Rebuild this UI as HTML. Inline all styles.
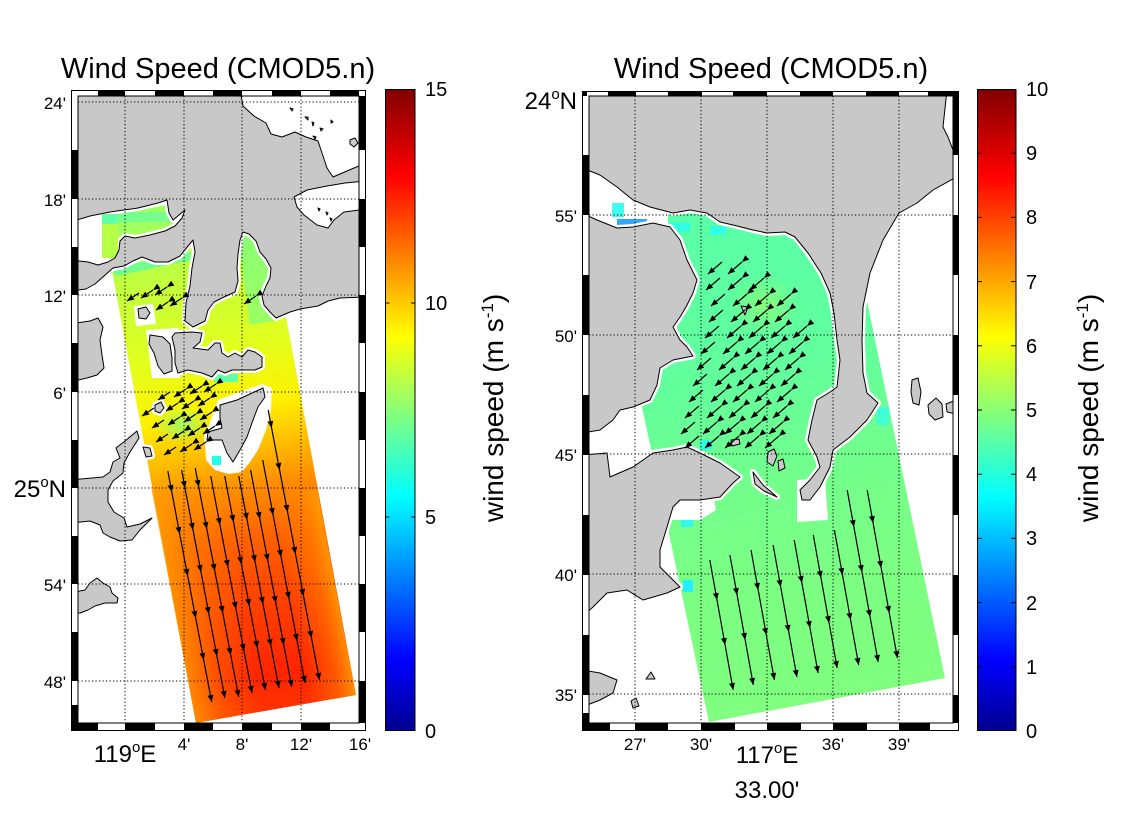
<!DOCTYPE html>
<html><head><meta charset="utf-8"><style>
html,body{margin:0;padding:0;background:#fff;}
svg{display:block;font-family:"Liberation Sans",Arial,sans-serif;}
</style></head><body>
<svg width="1134" height="817" viewBox="0 0 1134 817" xmlns="http://www.w3.org/2000/svg">
<defs>
<clipPath id="cL"><rect x="78" y="96" width="281" height="627"/></clipPath>
<clipPath id="cR"><rect x="589" y="96" width="364" height="627"/></clipPath>
<linearGradient id="jet" x1="0" y1="1" x2="0" y2="0">
<stop offset="0" stop-color="#00008f"/><stop offset="0.11" stop-color="#0000ff"/><stop offset="0.365" stop-color="#00ffff"/><stop offset="0.615" stop-color="#ffff00"/><stop offset="0.865" stop-color="#ff0000"/><stop offset="1" stop-color="#800000"/>
</linearGradient>
<linearGradient id="gL" gradientUnits="userSpaceOnUse" x1="140" y1="217" x2="236" y2="723">
<stop offset="0" stop-color="#9cff62"/><stop offset="0.12" stop-color="#bfff40"/><stop offset="0.28" stop-color="#e2ff1d"/><stop offset="0.4" stop-color="#fff000"/><stop offset="0.47" stop-color="#ffc400"/><stop offset="0.55" stop-color="#ff9000"/><stop offset="0.66" stop-color="#ff6000"/><stop offset="0.8" stop-color="#ff3c00"/><stop offset="0.92" stop-color="#ff2400"/><stop offset="1" stop-color="#ff3400"/>
</linearGradient>
<linearGradient id="gE" gradientUnits="userSpaceOnUse" x1="173" y1="631" x2="338" y2="600">
<stop offset="0" stop-color="#ffa000" stop-opacity="0.9"/><stop offset="0.22" stop-color="#ff9000" stop-opacity="0.35"/><stop offset="0.45" stop-color="#ff9000" stop-opacity="0"/><stop offset="0.72" stop-color="#ff9000" stop-opacity="0"/><stop offset="0.9" stop-color="#ff9000" stop-opacity="0.45"/><stop offset="1" stop-color="#ffa000" stop-opacity="0.85"/>
</linearGradient>
<radialGradient id="gB"><stop offset="0" stop-color="#90ff70" stop-opacity="0.85"/><stop offset="1" stop-color="#90ff70" stop-opacity="0"/></radialGradient>
<radialGradient id="gY"><stop offset="0" stop-color="#a0ff60" stop-opacity="0.6"/><stop offset="1" stop-color="#a0ff60" stop-opacity="0"/></radialGradient>
<linearGradient id="gR" gradientUnits="userSpaceOnUse" x1="650" y1="200" x2="760" y2="722">
<stop offset="0" stop-color="#58ffa8"/><stop offset="0.35" stop-color="#62ff9d"/><stop offset="0.55" stop-color="#72ff8d"/><stop offset="0.75" stop-color="#7cff83"/><stop offset="1" stop-color="#80ff7f"/>
</linearGradient>
<marker id="a" markerWidth="7" markerHeight="6" refX="7" refY="3" orient="auto" markerUnits="userSpaceOnUse"><path d="M0,0 L7,3 L0,6 Z" fill="#000" stroke="none"/></marker>

<path id="LA" d="M70,90 H240 L243,106 L254,116 L266,123 L271,134 L282,137 L295,132 L306,137 L318,141 L322,153 L327,168 L333,177 L347,171 L366,163 V297 L340,298 L328,301 L318,306 L300,309 L290,312 L276,318 L270,312 L264,305 L262,296 L266,286 L270,278 L271,268 L266,259 L260,252 L256,241 L249,234 L243,232 L240,240 L238,254 L237,268 L238,281 L235,292 L224,297 L214,302 L208,310 L205,321 L193,327 L185,321 L186,303 L190,286 L192,268 L195,252 L193,240 L188,246 L180,256 L168,262 L155,262 L142,257 L133,261 L124,266 L113,268 L104,276 L95,284 L86,289 L70,291 Z M70,222 L90,216 L110,212 L138,208 L158,203 L167,200 L169,213 L173,220 L185,210 L182,218 L175,226 L165,231 L150,235 L135,238 L125,236 L120,241 L119,250 L115,258 L108,262 L98,265 L88,262 L70,260 Z M366,181 L345,183 L327,186 L307,190 L294,197 L297,207 L304,215 L317,225 L328,228 L334,220 L344,212 L366,209 Z"/>
<path id="LD" d="M70,324 L90,321 L98,318 L103,327 L100,340 L102,355 L104,368 L97,375 L87,378 L70,382 Z"/>
<path id="L2" d="M70,480 L103,477 L110,472 L113,462 L120,458 L116,448 L125,441 L137,431 L139,438 L130,452 L124,463 L123,473 L113,481 L108,490 L108,502 L114,512 L124,518 L127,527 L140,524 L152,518 L140,530 L132,540 L120,541 L110,537 L103,533 L100,525 L90,521 L70,523 Z"/>
<path id="L3" d="M70,593 L85,590 L90,583 L97,578 L103,583 L110,587 L112,593 L118,598 L117,603 L105,603 L95,606 L88,610 L80,613 L70,613 Z"/>
<path id="LC" d="M172,337 L175,333 L192,332 L202,333 L200,342 L193,348 L208,350 L215,343 L220,343 L222,353 L228,357 L235,353 L242,357 L248,350 L255,352 L262,357 L262,367 L255,370 L242,370 L232,370 L225,373 L218,370 L212,377 L202,373 L188,370 L178,373 L175,363 L175,350 Z"/>
<path id="LE" d="M150,335 L163,337 L170,344 L172,358 L172,371 L164,374 L158,366 L154,353 L149,344 Z"/>
<path id="LDp" d="M220,405 L237,400 L250,394 L263,388 L265,397 L258,407 L253,420 L247,437 L240,450 L233,462 L227,453 L222,440 L207,440 L208,432 L222,428 L220,418 Z"/>
<path id="Li1" d="M155,405 L161,402 L164,408 L160,413 L155,411 Z"/>
<path id="Li2" d="M143,447 L150,448 L152,456 L146,457 Z"/>
<path id="Li3" d="M138,309 L146,307 L150,313 L146,319 L139,318 Z"/>

<path id="R1" d="M582,90 H960 V175 L933,190 L917,203 L899,213 L883,240 L870,273 L863,307 L862,340 L863,373 L867,393 L878,403 L867,420 L850,437 L833,450 L830,467 L820,487 L810,500 L802,500 L800,490 L810,480 L820,467 L817,457 L808,440 L812,420 L817,400 L830,392 L837,387 L840,360 L837,340 L834,313 L830,293 L821,273 L808,253 L795,237 L785,232 L767,233 L753,230 L733,225 L720,222 L707,213 L690,210 L673,213 L650,207 L633,200 L617,187 L600,175 L582,168 Z M947,90 L943,127 L948,137 L953,150 L960,152 L960,90 Z"/>
<path id="R2" d="M582,213 L597,220 L617,228 L633,227 L653,223 L670,227 L680,240 L687,260 L697,280 L693,293 L686,307 L680,317 L673,327 L680,340 L687,347 L693,356 L673,360 L660,368 L657,385 L650,400 L633,407 L620,410 L613,420 L600,430 L582,433 Z"/>
<path id="R3" d="M582,455 L607,453 L610,477 L633,467 L653,453 L673,450 L687,447 L700,453 L720,463 L740,477 L733,483 L720,497 L700,500 L680,500 L673,507 L667,527 L660,550 L660,567 L673,580 L680,587 L667,593 L643,600 L627,590 L607,593 L593,607 L582,617 Z"/>
<path id="R4" d="M582,670 L600,673 L617,680 L613,693 L600,700 L582,707 Z"/>
<path id="Rs" d="M753,472 L763,485 L777,497 L764,491 L755,484 Z"/>
<path id="Ri" d="M912,380 L918,378 L921,392 L919,405 L913,403 L911,392 Z M928,405 L936,398 L942,404 L943,417 L935,420 L929,414 Z M946,404 L956,400 L956,414 L947,412 Z M741,306 L748,307 L745,315 Z M768,452 L774,449 L777,456 L773,466 L767,462 Z M778,461 L783,459 L785,468 L779,471 Z M731,440 L739,439 L740,444 L732,446 Z M646,679 L651,672 L655,679 Z M631,701 L636,698 L639,706 L633,708 Z"/>
</defs>

<rect width="1134" height="817" fill="#fff"/>

<!-- Titles -->
<text x="218" y="78" font-size="29" text-anchor="middle">Wind Speed (CMOD5.n)</text>
<text x="771" y="78" font-size="29" text-anchor="middle">Wind Speed (CMOD5.n)</text>

<!-- LEFT MAP -->
<g clip-path="url(#cL)">
<rect x="78" y="96" width="281" height="627" fill="#fff"/>
<polygon points="102,217 262,187 356,695 196,723" fill="url(#gL)"/>
<polygon points="151.7,490 317,490 356,695 196,723" fill="url(#gE)"/>
<ellipse cx="182" cy="425" rx="30" ry="20" fill="url(#gB)"/>
<polygon points="113,268 190,252 192,260 115,276" fill="#50ffb0" opacity="0.7"/>
<rect x="102" y="212" width="72" height="10" fill="#5cffa8" opacity="0.6"/>
<polygon points="238,235 268,235 280,320 250,325" fill="#70ff90" opacity="0.6"/>
<rect x="186" y="335" width="10" height="9" fill="#20f8f0"/>
<rect x="214" y="374" width="24" height="8" fill="#40ffd0" opacity="0.8"/>
<!-- no-data gaps -->
<polygon points="205,445 208,428 218,400 262,384 272,388 271,410 266,430 258,450 250,462 242,472 228,474 215,470 206,460" fill="#fff"/>
<rect x="212" y="456" width="9" height="9" fill="#20ffe8"/>
<polygon points="134,306 153,304 156,324 136,326" fill="#fff"/>
<polygon points="146,330 178,328 180,378 152,378" fill="#fff"/>
<g fill="none" stroke="#fff" stroke-width="6" stroke-linejoin="round">
<use href="#LA"/><use href="#LC"/><use href="#LDp"/><use href="#Li1"/><use href="#Li2"/>
</g>
<rect x="102" y="214" width="16" height="44" fill="#b8ff48"/>
<rect x="102" y="214" width="16" height="10" fill="#60ffa8"/>
<g fill="#c8c8c8" stroke="#000" stroke-width="1" fill-rule="evenodd" stroke-linejoin="round">
<use href="#LA"/><use href="#LD"/><use href="#L2"/><use href="#L3"/><use href="#LC"/><use href="#LE"/><use href="#LDp"/><use href="#Li1"/><use href="#Li2"/><use href="#Li3"/>
<path d="M290,108 l3,1 l-1,2 z M305,117 l3,0 l0,3 z M312,122 l2,1 l-1,3 z M320,128 l3,1 l-2,2 z M331,120 l2,2 l-2,1 z M313,136 l3,1 l-1,2z M350,140 l5,-2 l3,5 l-4,4 l-4,-3 z M318,208 l2,1 l-1,2z M326,212 l2,1 l-1,2z M330,218 l2,1 l-1,2z"/>
</g>
<g stroke="#000" stroke-width="1" stroke-dasharray="1.2,2.3" fill="none">
<path d="M125,96V723M184,96V723M242,96V723M301,96V723"/>
<path d="M78,102H359M78,199H359M78,295H359M78,392H359M78,488H359M78,584H359M78,681H359"/>
</g>
<g stroke="#000" stroke-width="1.2" fill="none" marker-mid="url(#a)" marker-end="url(#a)">
<path d="M167.8,471 L171.8,492 L179.7,534 L187.7,576 L195.7,618 L203.7,660 L211.7,702"/>
<path d="M181.6,470 L185,488 L193,530 L201,572 L208.9,614 L216.9,656 L224.9,698"/>
<path d="M195.2,468 L198.8,487 L206.8,529 L214.8,571 L222.8,613 L230.7,655 L238.7,697"/>
<path d="M210.7,476 L220,525 L228,567 L236,609 L244,651 L252,693"/>
<path d="M224.7,476 L233.5,522 L241.4,564 L249.4,606 L257.4,648 L265.4,690"/>
<path d="M238.7,476 L247.1,520 L255.1,562 L263,604 L271,646 L279,688"/>
<path d="M250.6,470 L259.9,519 L267.9,561 L275.9,603 L283.8,645 L291.8,687"/>
<path d="M262.7,460 L273.1,515 L281.1,557 L289.1,599 L297.1,641 L305.1,683"/>
<path d="M268.2,410 L271.6,428 L279.6,470 L287.6,512 L295.5,554 L303.5,596 L311.5,638 L319.5,680"/>
<path d="M170,392L158,400M186,389L174,397M202,386L190,394M216,384L204,392"/>
<path d="M154,408L142,416M178,403L166,411M194,401L182,409M210,398L198,406"/>
<path d="M164,420L152,428M180,417L168,425M196,414L184,422M212,412L200,420"/>
<path d="M168,434L156,442M184,431L172,439M200,428L188,436M215,426L203,434"/>
<path d="M176,447L164,455M192,444L180,452M206,442L194,450"/>
<path d="M139,293L127,301M153,290L141,298M167,287L155,295M168,302L156,310M182,298L170,306M256,296L244,304"/>
</g>
</g>
<!-- left frame -->
<g fill="#000">
<rect x="98" y="90" width="27" height="6"/><rect x="155" y="90" width="29" height="6"/><rect x="213" y="90" width="29" height="6"/><rect x="272" y="90" width="29" height="6"/><rect x="330" y="90" width="29" height="6"/>
<rect x="71" y="723" width="27" height="8"/><rect x="125" y="723" width="30" height="8"/><rect x="184" y="723" width="29" height="8"/><rect x="242" y="723" width="30" height="8"/><rect x="301" y="723" width="29" height="8"/>
<rect x="71" y="150" width="7" height="49"/><rect x="71" y="247" width="7" height="48"/><rect x="71" y="343" width="7" height="49"/><rect x="71" y="440" width="7" height="48"/><rect x="71" y="536" width="7" height="48"/><rect x="71" y="632" width="7" height="49"/><rect x="71" y="705" width="7" height="18"/>
<rect x="359" y="96" width="7" height="54"/><rect x="359" y="199" width="7" height="48"/><rect x="359" y="295" width="7" height="48"/><rect x="359" y="392" width="7" height="48"/><rect x="359" y="488" width="7" height="48"/><rect x="359" y="584" width="7" height="48"/><rect x="359" y="681" width="7" height="42"/>
</g>
<rect x="71.5" y="90.5" width="294" height="640" fill="none" stroke="#000"/>
<rect x="78" y="96" width="281" height="627" fill="none" stroke="#000"/>

<!-- left labels -->
<g font-size="17" text-anchor="end">
<text x="66" y="109">24'</text><text x="66" y="206">18'</text><text x="66" y="302">12'</text><text x="66" y="399">6'</text><text x="66" y="591">54'</text><text x="66" y="688">48'</text>
</g>
<text x="66" y="497" font-size="24" text-anchor="end">25<tspan font-size="15" dy="-10">o</tspan><tspan dy="10">N</tspan></text>
<g font-size="17" text-anchor="middle">
<text x="184" y="750">4'</text><text x="242" y="750">8'</text><text x="301" y="750">12'</text><text x="360" y="750">16'</text>
</g>
<text x="125" y="762" font-size="24" text-anchor="middle">119<tspan font-size="15" dy="-10">o</tspan><tspan dy="10">E</tspan></text>

<!-- left colorbar -->
<rect x="385.5" y="89.5" width="29.5" height="641" fill="url(#jet)" stroke="#000"/>
<g stroke="#000"><path d="M411,303H415M411,517H415M385.5,303H389.5M385.5,517H389.5"/></g>
<g font-size="20"><text x="425" y="96">15</text><text x="425" y="310">10</text><text x="425" y="524">5</text><text x="425" y="738">0</text></g>
<text transform="translate(503,408) rotate(-90)" font-size="28" text-anchor="middle">wind speed (m s<tspan font-size="17" dy="-10">-1</tspan><tspan dy="10">)</tspan></text>

<!-- RIGHT MAP -->
<g clip-path="url(#cR)">
<rect x="589" y="96" width="364" height="627" fill="#fff"/>
<polygon points="597,195 845,195 945,678 709,722" fill="url(#gR)"/>
<ellipse cx="765" cy="305" rx="35" ry="30" fill="url(#gY)"/>
<polygon points="589,165 668,165 668,232 589,232" fill="#fff"/>
<rect x="612" y="203" width="12" height="14" fill="#40fff0"/>
<rect x="617" y="219" width="30" height="8" fill="#30a8ff"/>
<rect x="670" y="222" width="20" height="10" fill="#30ffe0"/>
<rect x="710" y="226" width="16" height="9" fill="#30ffe8"/>
<rect x="877" y="407" width="12" height="18" fill="#40ffd8"/>
<rect x="683" y="580" width="10" height="12" fill="#20f0ff"/>
<rect x="681" y="513" width="12" height="14" fill="#30f8f0"/>
<rect x="700" y="440" width="12" height="10" fill="#30ffe0"/>
<polygon points="668,488 712,488 716,510 700,520 668,520" fill="#fff"/>
<polygon points="797,480 825,478 828,520 797,522" fill="#fff"/>
<g fill="none" stroke="#fff" stroke-width="6" stroke-linejoin="round">
<use href="#R1"/><use href="#R2"/><use href="#R3"/><use href="#Rs"/>
</g>
<g fill="#c8c8c8" stroke="#000" stroke-width="1" fill-rule="evenodd" stroke-linejoin="round">
<use href="#R1"/><use href="#R2"/><use href="#R3"/><use href="#R4"/><use href="#Rs"/><use href="#Ri"/>
</g>
<g stroke="#000" stroke-width="1" stroke-dasharray="1.2,2.3" fill="none">
<path d="M635,96V723M701,96V723M767,96V723M833,96V723M899,96V723"/>
<path d="M589,215H953M589,335H953M589,454H953M589,574H953M589,694H953"/>
</g>
<g stroke="#000" stroke-width="1.2" fill="none" marker-mid="url(#a)" marker-end="url(#a)">
<path d="M709.8,560 L717,600 L725.1,645 L733.2,690"/>
<path d="M729.9,555 L737.1,595 L745.2,640 L753.3,685"/>
<path d="M751,550 L758.2,590 L766.3,635 L774.4,680"/>
<path d="M773.1,545 L780.7,587 L788.8,632 L796.9,677"/>
<path d="M794.2,540 L801.9,583 L810,628 L818.1,673"/>
<path d="M813.3,535 L821,578 L829.1,623 L837.2,668"/>
<path d="M834.4,530 L842.5,575 L850.6,620 L858.7,665"/>
<path d="M847.2,490 L853.9,527 L862,572 L870.1,617 L878.2,662"/>
<path d="M867.2,490 L873.1,523 L881.2,568 L889.3,613 L897.4,658"/>
<path d="M722,262L708,274M742,262L728,274"/>
<path d="M720,278L706,290M742,278L728,290M764,278L750,290"/>
<path d="M725,294L711,306M747,294L733,306M769,294L755,306M791,294L777,306"/>
<path d="M723,310L709,322M745,310L731,322M767,310L753,322M789,310L775,322"/>
<path d="M719,326L705,338M741,326L727,338M763,326L749,338M785,326L771,338M807,326L793,338"/>
<path d="M715,342L701,354M737,342L723,354M759,342L745,354M781,342L767,354M803,342L789,354"/>
<path d="M711,358L697,370M733,358L719,370M755,358L741,370M777,358L763,370M799,358L785,370"/>
<path d="M707,374L693,386M729,374L715,386M751,374L737,386M773,374L759,386M795,374L781,386"/>
<path d="M703,390L689,402M725,390L711,402M747,390L733,402M769,390L755,402M791,390L777,402"/>
<path d="M699,406L685,418M721,406L707,418M743,406L729,418M765,406L751,418M787,406L773,418"/>
<path d="M695,422L681,434M717,422L703,434M739,422L725,434M761,422L747,434M783,422L769,434"/>
<path d="M699,436L685,448M719,436L705,448M739,436L725,448M759,436L745,448M779,436L765,448"/>
</g>
</g>
<!-- right frame -->
<g fill="#000">
<rect x="582" y="91" width="5" height="5"/><rect x="608" y="91" width="28" height="5"/><rect x="668" y="91" width="34" height="5"/><rect x="733" y="91" width="34" height="5"/><rect x="800" y="91" width="33" height="5"/><rect x="866" y="91" width="33" height="5"/><rect x="928" y="91" width="31" height="5"/>
<rect x="582" y="723" width="28" height="8"/><rect x="635" y="723" width="33" height="8"/><rect x="701" y="723" width="34" height="8"/><rect x="767" y="723" width="34" height="8"/><rect x="833" y="723" width="34" height="8"/><rect x="899" y="723" width="31" height="8"/>
<rect x="582" y="155" width="7" height="60"/><rect x="582" y="275" width="7" height="60"/><rect x="582" y="395" width="7" height="60"/><rect x="582" y="515" width="7" height="60"/><rect x="582" y="635" width="7" height="60"/><rect x="582" y="713" width="7" height="10"/>
<rect x="953" y="96" width="6" height="59"/><rect x="953" y="215" width="6" height="60"/><rect x="953" y="335" width="6" height="60"/><rect x="953" y="455" width="6" height="60"/><rect x="953" y="575" width="6" height="60"/><rect x="953" y="695" width="6" height="28"/>
</g>
<rect x="582.5" y="91.5" width="376" height="639" fill="none" stroke="#000"/>
<rect x="589" y="96" width="364" height="627" fill="none" stroke="#000"/>

<!-- right labels -->
<text x="577" y="109" font-size="24" text-anchor="end">24<tspan font-size="15" dy="-10">o</tspan><tspan dy="10">N</tspan></text>
<g font-size="17" text-anchor="end">
<text x="577" y="222">55'</text><text x="577" y="342">50'</text><text x="577" y="461">45'</text><text x="577" y="581">40'</text><text x="577" y="701">35'</text>
</g>
<g font-size="17" text-anchor="middle">
<text x="635" y="750">27'</text><text x="701" y="750">30'</text><text x="833" y="750">36'</text><text x="899" y="750">39'</text>
</g>
<text x="767" y="763" font-size="24" text-anchor="middle">117<tspan font-size="15" dy="-10">o</tspan><tspan dy="10">E</tspan></text>
<text x="767" y="798" font-size="24" text-anchor="middle">33.00'</text>

<!-- right colorbar -->
<rect x="977.5" y="89.5" width="38.5" height="641" fill="url(#jet)" stroke="#000"/>
<g stroke="#000"><path d="M1011,153.2H1016M1011,217.4H1016M1011,281.6H1016M1011,345.8H1016M1011,410H1016M1011,474.2H1016M1011,538.4H1016M1011,602.6H1016M1011,666.8H1016M977.5,153.2H982M977.5,217.4H982M977.5,281.6H982M977.5,345.8H982M977.5,410H982M977.5,474.2H982M977.5,538.4H982M977.5,602.6H982M977.5,666.8H982"/></g>
<g font-size="20">
<text x="1026" y="96">10</text><text x="1026" y="160">9</text><text x="1026" y="224">8</text><text x="1026" y="289">7</text><text x="1026" y="353">6</text><text x="1026" y="417">5</text><text x="1026" y="481">4</text><text x="1026" y="545">3</text><text x="1026" y="610">2</text><text x="1026" y="674">1</text><text x="1026" y="738">0</text>
</g>
<text transform="translate(1098,408) rotate(-90)" font-size="28" text-anchor="middle">wind speed (m s<tspan font-size="17" dy="-10">-1</tspan><tspan dy="10">)</tspan></text>
</svg>
</body></html>
